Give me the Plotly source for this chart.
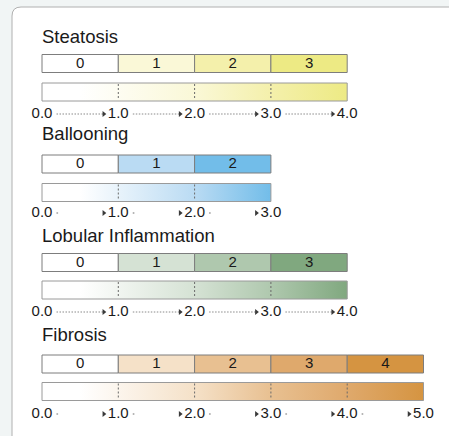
import plotly.graph_objects as go

# ---------------- data ----------------
section_titles = ["Steatosis", "Ballooning", "Lobular Inflammation", "Fibrosis"]

steatosis_grades = [0, 1, 2, 3]
ballooning_grades = [0, 1, 2]
lobular_grades = [0, 1, 2, 3]
fibrosis_grades = [0, 1, 2, 3, 4]

steatosis_colors = ["#ffffff", "#faf8d7", "#f4f0ab", "#edea84"]
ballooning_colors = ["#ffffff", "#badbf3", "#72bde9"]
lobular_colors = ["#ffffff", "#d5e2d4", "#afc8ae", "#80a87f"]
fibrosis_colors = ["#ffffff", "#f5e1c8", "#e8c091", "#dfa96c", "#d59441"]

steatosis_ticks = ["0.0", "1.0", "2.0", "3.0", "4.0"]
ballooning_ticks = ["0.0", "1.0", "2.0", "3.0"]
lobular_ticks = ["0.0", "1.0", "2.0", "3.0", "4.0"]
fibrosis_ticks = ["0.0", "1.0", "2.0", "3.0", "4.0", "5.0"]

connector_styles = ["dotted", "dots", "dotted", "dots"]

grades_all = [steatosis_grades, ballooning_grades, lobular_grades, fibrosis_grades]
colors_all = [steatosis_colors, ballooning_colors, lobular_colors, fibrosis_colors]
ticks_all = [steatosis_ticks, ballooning_ticks, lobular_ticks, fibrosis_ticks]

# ---------------- layout (pixel positions) ----------------
W, H = 449, 436
X0_PX, UNIT_PX = 42.0, 76.3
title_y = [38, 135, 237, 336]
bar_y = [63.5, 164, 262.5, 364]
grad_y = [92, 192.5, 290, 391.5]
label_y = [114, 213, 312, 414]
BAR_H = 18

fig = go.Figure()

for s in range(4):
    grades = grades_all[s]
    cols = colors_all[s]
    ticks = ticks_all[s]
    n = len(grades)

    # grade bar (segments)
    fig.add_trace(go.Bar(
        orientation="h", base=grades, x=[1] * n, y=[bar_y[s]] * n, width=BAR_H,
        marker=dict(color=cols, line=dict(color="#7d7d7d", width=1)),
        hoverinfo="skip", showlegend=False))
    fig.add_trace(go.Scatter(
        x=[g + 0.5 for g in grades], y=[bar_y[s] + 0.5] * n, mode="text",
        text=[str(g) for g in grades],
        textfont=dict(family="Liberation Sans, Arial", size=15, color="#1a1a1a"),
        hoverinfo="skip", showlegend=False))

    # gradient bar
    top = grad_y[s] - BAR_H / 2
    bot = grad_y[s] + BAR_H / 2
    cs = [[0.0, "#ffffff"], [0.5 / n, "#ffffff"]]
    for k in range(1, n):
        cs.append([(k + 1) / n, cols[k]])
    fig.add_trace(go.Scatter(
        x=[0, n, n, 0, 0], y=[top, top, bot, bot, top], mode="lines",
        fill="toself", fillgradient=dict(type="horizontal", colorscale=cs),
        line=dict(color="#9a9a9a", width=1), hoverinfo="skip", showlegend=False))
    for k in range(1, n):
        fig.add_trace(go.Scatter(
            x=[k, k], y=[top + 1, bot - 1], mode="lines",
            line=dict(color="#6a6a6a", width=1, dash="2px,2px"),
            hoverinfo="skip", showlegend=False))

    # tick labels
    fig.add_trace(go.Scatter(
        x=list(range(n + 1)), y=[label_y[s]] * (n + 1), mode="text",
        text=ticks,
        textfont=dict(family="Liberation Sans, Arial", size=15, color="#1a1a1a"),
        hoverinfo="skip", showlegend=False))

    # connectors
    for i in range(n):
        if connector_styles[s] == "dotted":
            fig.add_trace(go.Scatter(
                x=[i + 0.19, i + 1 - 0.2], y=[label_y[s]] * 2, mode="lines",
                line=dict(color="#8a8a8a", width=1, dash="1.5px,1.5px"),
                hoverinfo="skip", showlegend=False))
        else:
            fig.add_trace(go.Scatter(
                x=[i + 0.2], y=[label_y[s]], mode="markers",
                marker=dict(symbol="circle", size=2, color="#b0b0b0"),
                hoverinfo="skip", showlegend=False))
        fig.add_trace(go.Scatter(
            x=[i + 1 - 0.19], y=[label_y[s]], mode="markers",
            marker=dict(symbol="triangle-right", size=5, color="#3a3a3a"),
            hoverinfo="skip", showlegend=False))

    # section title
    fig.add_trace(go.Scatter(
        x=[0], y=[title_y[s]], mode="text", text=[section_titles[s]],
        textposition="middle right",
        textfont=dict(family="Liberation Sans, Arial", size=18.5, color="#1a1a1a"),
        hoverinfo="skip", showlegend=False))


def px(x):
    return x / W


def py(y):
    return 1 - y / H


r = 9
card = (f"M {px(12)},{py(H + 20)} L {px(12)},{py(7 + r)} "
        f"Q {px(12)},{py(7)} {px(12 + r)},{py(7)} L {px(W + 20)},{py(7)} "
        f"L {px(W + 20)},{py(H + 20)} Z")

fig.update_layout(
    width=W, height=H,
    margin=dict(l=0, r=0, t=0, b=0),
    paper_bgcolor="#f1f5f5",
    plot_bgcolor="rgba(0,0,0,0)",
    barmode="overlay",
    xaxis=dict(range=[-X0_PX / UNIT_PX, (W - X0_PX) / UNIT_PX], visible=False, fixedrange=True),
    yaxis=dict(range=[H, 0], visible=False, fixedrange=True),
    shapes=[dict(type="path", path=card, xref="paper", yref="paper",
                 fillcolor="#ffffff", line=dict(color="#b0b0b0", width=1), layer="below")],
    showlegend=False,
)

fig.write_html(
    "out.html",
    config={"displayModeBar": False},
    post_script="document.body.style.margin='0';document.body.style.overflow='hidden';",
)
